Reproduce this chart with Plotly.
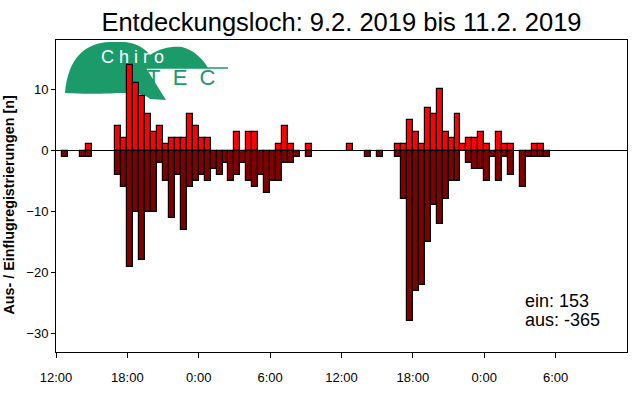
import plotly.graph_objects as go
import pandas as pd

# 30-minute bins starting 9.2.2019 12:00 (96 bins over 48 h)
bin_start = "2019-02-09 12:00"
n_bins = 96
# registered fly-ins (ein) per bin index
ein_idx = [5, 10, 11, 12, 13, 14, 15, 16, 17, 18, 19, 20, 21, 22, 23, 24, 25, 30, 32, 33, 37, 38, 39, 42,
           49, 57, 58, 59, 60, 61, 62, 63, 64, 65, 66, 67, 68, 69, 70, 71, 72, 74, 75, 76, 80, 81]
ein_val = [1, 4, 2, 14, 11, 9, 6, 3, 4, 1, 2, 2, 2, 6, 4, 2, 2, 3, 3, 3, 1, 4, 1, 1,
           1, 1, 1, 5, 3, 1, 7, 6, 10, 3, 2, 6, 1, 2, 2, 3, 1, 3, 1, 1, 1, 1]
# registered fly-outs (aus) per bin index
aus_idx = [1, 4, 5, 10, 11, 12, 13, 14, 15, 16, 17, 18, 19, 20, 21, 22, 23, 24, 25, 26, 27, 28, 29, 30,
           31, 32, 33, 34, 35, 36, 37, 38, 39, 40, 42, 52, 54, 57, 58, 59, 60, 61, 62, 63, 64, 65,
           66, 67, 69, 70, 71, 72, 73, 74, 75, 76, 78, 79, 80, 81, 82]
aus_val = [-1, -1, -1, -4, -6, -19, -10, -18, -10, -10, -2, -5, -11, -4, -13, -6, -5, -4, -5, -3, -4, -2, -5, -4,
           -2, -5, -6, -4, -7, -5, -5, -2, -2, -1, -1, -1, -1, -1, -8, -28, -23, -22, -15, -9, -12, -8,
           -5, -5, -2, -3, -3, -5, -1, -5, -1, -4, -6, -1, -1, -1, -1]

tick_times = ["2019-02-09 12:00", "2019-02-09 18:00", "2019-02-10 00:00", "2019-02-10 06:00",
              "2019-02-10 12:00", "2019-02-10 18:00", "2019-02-11 00:00", "2019-02-11 06:00"]
tick_labels = ["12:00", "18:00", "0:00", "6:00", "12:00", "18:00", "0:00", "6:00"]
y_ticks = [-30, -20, -10, 0, 10]
title = "Entdeckungsloch: 9.2. 2019 bis 11.2. 2019"
y_title = "Aus- / Einflugregistrierungen [n]"
sum_ein = "ein: 153"
sum_aus = "aus: -365"

centers = pd.date_range(pd.Timestamp(bin_start) + pd.Timedelta(minutes=15), periods=n_bins, freq="30min")
ein = [0] * n_bins
aus = [0] * n_bins
for i, v in zip(ein_idx, ein_val):
    ein[i] = v
for i, v in zip(aus_idx, aus_val):
    aus[i] = v

ein_x = [centers[i] for i in range(n_bins) if ein[i] != 0]
ein_y = [ein[i] for i in range(n_bins) if ein[i] != 0]
aus_x = [centers[i] for i in range(n_bins) if aus[i] != 0]
aus_y = [aus[i] for i in range(n_bins) if aus[i] != 0]

W = 30 * 60 * 1000
fig = go.Figure()
fig.add_trace(go.Bar(x=ein_x, y=ein_y, width=W, marker=dict(color="#FF0000", line=dict(color="black", width=1.2)),
                     name="ein"))
fig.add_trace(go.Bar(x=aus_x, y=aus_y, width=W, marker=dict(color="#800000", line=dict(color="black", width=1.2)),
                     name="aus"))

L, R, T, B = 56, 13, 40, 48
PW, PH = 640 - L - R, 400 - T - B


def px(x):
    return (x - L) / PW


def py(y):
    return (400 - B - y) / PH


# rough ChiroTEC logo (decoration)
logo_green = "#1B9A6A"
logo_pts = [
    ("M", [(65, 93)]),
    ("C", [(68, 58), (85, 43), (110, 42)]),
    ("L", [(125, 42)]),
    ("C", [(138, 43), (146, 50), (150, 55)]),
    ("C", [(160, 48), (172, 46), (182, 47)]),
    ("C", [(194, 50), (204, 60), (208, 68)]),
    ("L", [(146, 68)]),
    ("L", [(166, 100)]),
    ("L", [(150, 99)]),
    ("C", [(138, 88), (115, 96), (65, 93)]),
]
path = " ".join(cmd + " " + " ".join(f"{px(a):.4f},{py(b):.4f}" for a, b in p) for cmd, p in logo_pts) + " Z"
fig.add_shape(type="path", xref="paper", yref="paper", path=path,
              fillcolor=logo_green, line=dict(width=0), layer="below")
fig.add_shape(type="line", xref="paper", yref="paper", x0=px(145), x1=px(228), y0=py(68), y1=py(68),
              line=dict(color=logo_green, width=1.5), layer="below")
fig.add_annotation(xref="paper", yref="paper", x=px(99), y=py(57), text="C h i r o", showarrow=False,
                   font=dict(family="Liberation Sans", size=18, color="white"), xanchor="left", yanchor="middle")
fig.add_annotation(xref="paper", yref="paper", x=px(145), y=py(77), text="T&nbsp;&nbsp;E&nbsp;&nbsp;C",
                   showarrow=False,
                   font=dict(family="Liberation Sans", size=22, color=logo_green), xanchor="left", yanchor="middle")

fig.add_annotation(xref="paper", yref="paper", x=px(523), y=py(301), text=sum_ein, showarrow=False,
                   font=dict(family="Liberation Sans", size=18, color="black"), xanchor="left", yanchor="middle")
fig.add_annotation(xref="paper", yref="paper", x=px(523), y=py(320), text=sum_aus, showarrow=False,
                   font=dict(family="Liberation Sans", size=18, color="black"), xanchor="left", yanchor="middle")
fig.add_annotation(xref="paper", yref="paper", x=px(8.5), y=py(205), text="<b>" + y_title + "</b>",
                   textangle=-90, showarrow=False,
                   font=dict(family="Liberation Sans", size=14.3, color="black"), xanchor="center", yanchor="middle")

fig.update_layout(
    width=640, height=400,
    margin=dict(l=L, r=R, t=T, b=B, autoexpand=False),
    paper_bgcolor="white", plot_bgcolor="white",
    barmode="relative", bargap=0, showlegend=False,
    font=dict(family="Liberation Sans", size=13, color="black"),
    title=dict(text=title, x=(L + PW / 2) / 640, xanchor="center", y=1 - 21.7 / 400, yanchor="middle",
               font=dict(family="Liberation Sans", size=25.5, color="black")),
)
fig.update_xaxes(
    type="date", range=["2019-02-09 12:00", "2019-02-11 12:00"], automargin=False,
    tickvals=tick_times, ticktext=tick_labels, ticks="outside", ticklen=5, tickcolor="black",
    showline=True, linecolor="black", linewidth=1, mirror=True, showgrid=False, zeroline=False,
    tickfont=dict(size=13), ticklabelstandoff=8,
)
fig.update_yaxes(
    range=[-33, 18.1], tickvals=y_ticks, ticks="outside", ticklen=4, tickcolor="black", automargin=False,
    showline=True, linecolor="black", linewidth=1, mirror=True, showgrid=False,
    zeroline=True, zerolinecolor="black", zerolinewidth=1.2,
    tickfont=dict(size=13),
)
fig.write_html("out.html")
